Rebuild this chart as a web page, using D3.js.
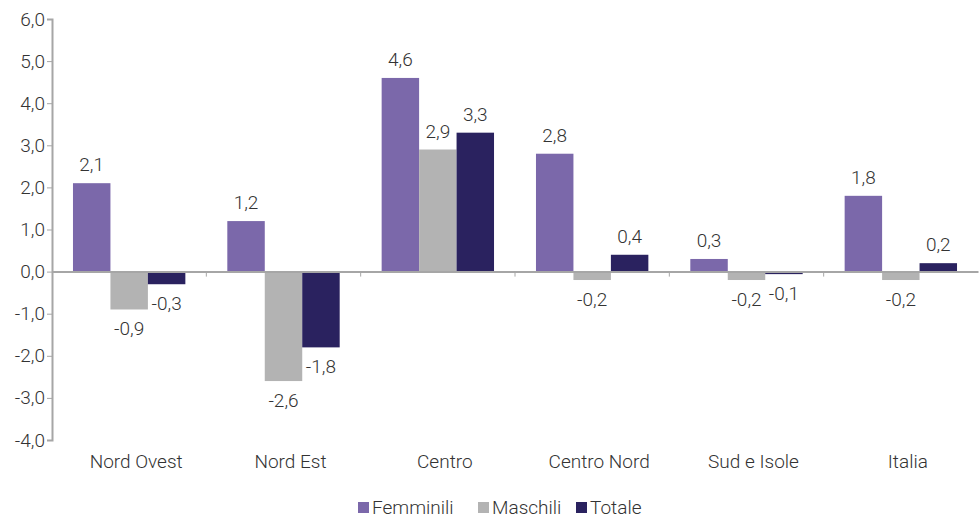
<!DOCTYPE html>
<html>
<head>
<meta charset="utf-8">
<script src="https://cdn.jsdelivr.net/npm/d3@7"></script>
<style>
    body { margin: 0; background: #fff; }
    svg { display: block; font-family: Roboto, 'Liberation Sans', Arial, sans-serif; font-weight: 300; }
    .axis path, .axis line { stroke: #a6a6a6; }
    .axis text { fill: #333; font-size: 19px; font-family: Roboto, 'Liberation Sans', Arial, sans-serif; }
    .bar-label { fill: #333; font-size: 19px; }
    .legend text { fill: #333; font-size: 19px; }
</style>
</head>
<body>
<div id="chart"></div>
<script>
// chart data
var categories = ['Nord Ovest', 'Nord Est', 'Centro', 'Centro Nord', 'Sud e Isole', 'Italia'];
var seriesNames = ['Femminili', 'Maschili', 'Totale'];
var femminili = [2.1, 1.2, 4.6, 2.8, 0.3, 1.8];
var maschili = [-0.9, -2.6, 2.9, -0.2, -0.2, -0.2];
var totale = [-0.3, -1.8, 3.3, 0.4, -0.06, 0.2];
var colors = ['#7b68aa', '#b3b3b3', '#2a225f'];
var yTicks = [-4, -3, -2, -1, 0, 1, 2, 3, 4, 5, 6];

var svgWidth = 979;
var svgHeight = 518;

var margin = { top: 19, right: 1, bottom: 78, left: 52 };
var chartWidth = svgWidth - margin.left - margin.right;
var chartHeight = svgHeight - margin.top - margin.bottom;

// italian number format: comma decimal, plain hyphen minus
var itLocale = d3.formatLocale({ decimal: ',', thousands: '.', grouping: [3], currency: ['€', ''], minus: '-' });
var fmt = itLocale.format('.1f');

var values = [femminili, maschili, totale];
var tableData = categories.map((c, i) => ({
    category: c,
    items: seriesNames.map((s, j) => ({ series: s, value: values[j][i], color: colors[j] }))
}));

var svg = d3.select('#chart')
    .append('svg')
    .attr('width', svgWidth)
    .attr('height', svgHeight);

var chartGroup = svg.append('g')
    .attr('transform', `translate(${margin.left}, ${margin.top})`);

// scales
var x0 = d3.scaleBand()
    .domain(categories)
    .range([0, chartWidth])
    .padding(0);

var x1 = d3.scaleBand()
    .domain(seriesNames)
    .range([0, x0.bandwidth()])
    .paddingInner(0)
    .paddingOuter(0.56);

var y = d3.scaleLinear()
    .domain([-4, 6])
    .range([chartHeight, 0]);

// left axis
var leftAxis = d3.axisLeft(y)
    .tickValues(yTicks)
    .tickFormat(fmt)
    .tickSizeOuter(0)
    .tickSize(5)
    .tickPadding(2);

var yAxisG = chartGroup.append('g')
    .attr('class', 'axis')
    .call(leftAxis);
yAxisG.select('.domain').attr('stroke-width', 2);
yAxisG.selectAll('text').attr('font-weight', 300);

// bars
var groups = chartGroup.selectAll('.group')
    .data(tableData)
    .enter()
    .append('g')
    .attr('class', 'group')
    .attr('transform', d => `translate(${x0(d.category)}, 0)`);

groups.selectAll('rect')
    .data(d => d.items)
    .enter()
    .append('rect')
    .attr('x', d => x1(d.series))
    .attr('width', x1.bandwidth())
    .attr('y', d => y(Math.max(0, d.value)))
    .attr('height', d => Math.abs(y(d.value) - y(0)))
    .attr('fill', d => d.color);

// value labels
groups.selectAll('.bar-label')
    .data(d => d.items)
    .enter()
    .append('text')
    .attr('class', 'bar-label')
    .attr('text-anchor', 'middle')
    .attr('x', d => x1(d.series) + x1.bandwidth() / 2)
    .attr('y', d => d.value >= 0 ? y(d.value) - 12 : y(d.value) + 26)
    .text(d => fmt(d.value));

// zero line with separators between groups
var zeroAxis = d3.axisBottom(x0)
    .tickSize(0)
    .tickFormat('');
var xAxisG = chartGroup.append('g')
    .attr('class', 'axis')
    .attr('transform', `translate(0, ${y(0)})`)
    .call(zeroAxis);
xAxisG.select('.domain').attr('stroke-width', 2);

xAxisG.selectAll('.sep')
    .data(categories.slice(1))
    .enter()
    .append('line')
    .attr('class', 'sep')
    .attr('x1', d => x0(d))
    .attr('x2', d => x0(d))
    .attr('y1', 0)
    .attr('y2', 5);

// category labels
chartGroup.selectAll('.cat-label')
    .data(categories)
    .enter()
    .append('text')
    .attr('class', 'bar-label cat-label')
    .attr('text-anchor', 'middle')
    .attr('x', d => x0(d) + x0.bandwidth() / 2 + 7)
    .attr('y', chartHeight + 28)
    .text(d => d);

// legend
var legendX = [358, 478, 576];
var legend = svg.append('g')
    .attr('class', 'legend')
    .selectAll('g')
    .data(seriesNames)
    .enter()
    .append('g')
    .attr('transform', (d, i) => `translate(${legendX[i]}, 502)`);

legend.append('rect')
    .attr('width', 11)
    .attr('height', 11)
    .attr('fill', (d, i) => colors[i]);

legend.append('text')
    .attr('x', 14)
    .attr('y', 12)
    .text(d => d);
</script>
</body>
</html>
